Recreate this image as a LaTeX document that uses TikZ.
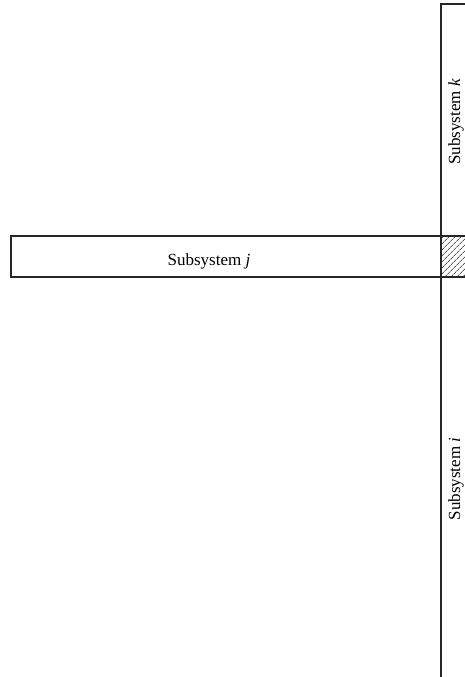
\documentclass[tikz,border=0pt]{standalone}
\usepackage{fontspec}
\setmainfont{Liberation Serif}
\usetikzlibrary{patterns.meta}
\tikzstyle{block} = [draw=black!85, line width=1.2pt]
\tikzstyle{overlap} = [draw=black!85, line width=1.2pt, pattern={Lines[angle=45, distance=4pt, line width=0.6pt]}]
\tikzstyle{subtext} = [font=\fontsize{17}{20}\selectfont, inner sep=0pt]

\begin{document}
\begin{tikzpicture}[x=1pt, y=-1pt]
    \useasboundingbox (0,0) rectangle (465,677);
    \clip (0,0) rectangle (465,677);
    % subsystem strips
    \draw[block] (441,4) rectangle (476,690);
    \draw[block] (11,236) rectangle (476,277);
    \draw[overlap] (441,236) rectangle (476,277);
    % names
    \node(subk)[subtext, rotate=90] at (456,122) {Subsystem \textit{k}};
    \node(subj)[subtext] at (209,261) {Subsystem \textit{j}};
    \node(subi)[subtext, rotate=90] at (456,479) {Subsystem \textit{i}};
\end{tikzpicture}
\end{document}
